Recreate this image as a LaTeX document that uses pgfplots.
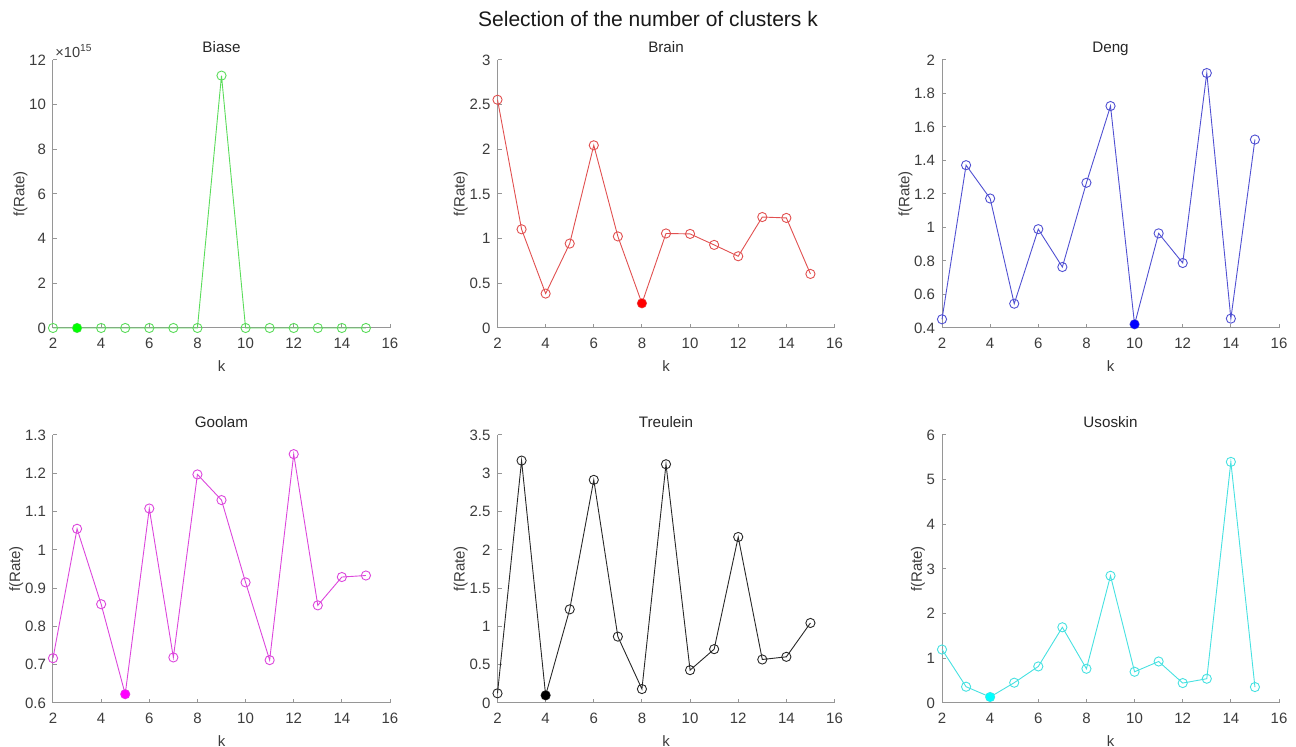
\documentclass[border=0pt]{standalone}
\usepackage{pgfplots}
\pgfplotsset{compat=1.18}
\usepackage{fontspec}
\setmainfont{Liberation Sans}
\definecolor{axgray}{RGB}{150,150,150}
\definecolor{txtgray}{RGB}{60,60,60}
\definecolor{mgreen}{RGB}{0,255,0}
\definecolor{mred}{RGB}{255,0,0}
\definecolor{mblue}{RGB}{0,0,255}
\definecolor{mmag}{RGB}{255,0,255}
\definecolor{mcyan}{RGB}{0,255,255}
\tikzset{ttl/.style={anchor=base, yshift=3.5pt, inner sep=0pt, font=\fontsize{7.6}{9}\selectfont, text=black!85}}
\pgfplotsset{
  mstyle/.style={
    scale only axis, width=168.5pt, height=134pt,
    anchor=south west,
    axis lines*=left,
    axis line style={axgray, line width=0.5pt},
    tick style={axgray, line width=0.5pt},
    tick align=inside,
    major tick length=2pt,
    tick label style={font=\fontsize{7.5}{8}\selectfont, text=txtgray},
    xticklabel style={yshift=-1.5pt},
    label style={font=\fontsize{7.5}{8}\selectfont, text=txtgray},
    /pgf/number format/assume math mode=true,
    xmin=2, xmax=16, xtick={2,4,...,16},
    xlabel={k}, ylabel={f(Rate)},
    xlabel style={yshift=1pt},
    ylabel style={yshift=-6pt},
    clip=false,
  },
  lstyle/.style={line width=0.45pt, mark=o, mark size=2.3pt, mark options={line width=0.45pt}},
  dstyle/.style={only marks, mark=*, mark size=2pt},
}
\begin{document}
\begin{tikzpicture}
\path[use as bounding box] (0,0) rectangle (648pt,373.5pt);
\node[font=\fontsize{10.5}{12}\selectfont, text=black!90] at (324pt,364pt) {Selection of the number of clusters k};

% Biase
\begin{axis}[mstyle, at={(26.5pt,209.5pt)},
  ymin=0, ymax=12e15, ytick={0,2e15,4e15,6e15,8e15,10e15,12e15},
  scaled y ticks=base 10:-15,
  ytick scale label code/.code={\textcolor{txtgray}{\fontsize{7.3}{8}\selectfont ×10\textsuperscript{15}}},
  every y tick scale label/.style={at={(rel axis cs:0,1)}, anchor=south west, inner sep=1pt}]
\addplot[lstyle, color={rgb,255:red,90;green,220;blue,90}] coordinates {
(2,0)(3,0)(4,0)(5,0)(6,0)(7,0)(8,0)(9,11.3e15)(10,0)(11,0)(12,0)(13,0)(14,0)(15,0)};
\addplot[dstyle, color=mgreen] coordinates {(3,0)};
\node[ttl] at (rel axis cs:0.5,1) {Biase};
\end{axis}

% Brain
\begin{axis}[mstyle, at={(248.75pt,209.5pt)},
  ymin=0, ymax=3, ytick={0,0.5,...,3}]
\addplot[lstyle, color={rgb,255:red,225;green,80;blue,80}] coordinates {
(2,2.555)(3,1.105)(4,0.385)(5,0.945)(6,2.045)(7,1.025)(8,0.276)(9,1.058)(10,1.053)(11,0.93)(12,0.803)(13,1.242)(14,1.232)(15,0.605)};
\addplot[dstyle, color=mred] coordinates {(8,0.276)};
\node[ttl] at (rel axis cs:0.5,1) {Brain};
\end{axis}

% Deng
\begin{axis}[mstyle, at={(471pt,209.5pt)},
  ymin=0.4, ymax=2, ytick={0.4,0.6,...,2.01},
  yticklabel style={/pgf/number format/fixed}]
\addplot[lstyle, color={rgb,255:red,80;green,80;blue,210}] coordinates {
(2,0.452)(3,1.372)(4,1.173)(5,0.545)(6,0.99)(7,0.764)(8,1.267)(9,1.725)(10,0.422)(11,0.965)(12,0.788)(13,1.922)(14,0.456)(15,1.525)};
\addplot[dstyle, color=mblue] coordinates {(10,0.422)};
\node[ttl] at (rel axis cs:0.5,1) {Deng};
\end{axis}

% Goolam
\begin{axis}[mstyle, at={(26.5pt,22pt)},
  ymin=0.6, ymax=1.3, ytick={0.6,0.7,...,1.31}]
\addplot[lstyle, color={rgb,255:red,220;green,70;blue,220}] coordinates {
(2,0.717)(3,1.055)(4,0.858)(5,0.623)(6,1.108)(7,0.719)(8,1.197)(9,1.13)(10,0.915)(11,0.712)(12,1.25)(13,0.855)(14,0.929)(15,0.933)};
\addplot[dstyle, color=mmag] coordinates {(5,0.623)};
\node[ttl] at (rel axis cs:0.5,1) {Goolam};
\end{axis}

% Treulein
\begin{axis}[mstyle, at={(248.75pt,22pt)},
  ymin=0, ymax=3.5, ytick={0,0.5,...,3.5}]
\addplot[lstyle, color={rgb,255:red,40;green,40;blue,40}] coordinates {
(2,0.126)(3,3.166)(4,0.10)(5,1.223)(6,2.914)(7,0.867)(8,0.182)(9,3.118)(10,0.429)(11,0.703)(12,2.168)(13,0.568)(14,0.603)(15,1.045)};
\addplot[dstyle, color=black] coordinates {(4,0.10)};
\node[ttl] at (rel axis cs:0.5,1) {Treulein};
\end{axis}

% Usoskin
\begin{axis}[mstyle, at={(471pt,22pt)},
  ymin=0, ymax=6, ytick={0,1,...,6}]
\addplot[lstyle, color={rgb,255:red,70;green,225;blue,225}] coordinates {
(2,1.197)(3,0.364)(4,0.134)(5,0.454)(6,0.818)(7,1.695)(8,0.766)(9,2.848)(10,0.699)(11,0.929)(12,0.446)(13,0.543)(14,5.398)(15,0.357)};
\addplot[dstyle, color=mcyan] coordinates {(4,0.134)};
\node[ttl] at (rel axis cs:0.5,1) {Usoskin};
\end{axis}
\end{tikzpicture}
\end{document}
